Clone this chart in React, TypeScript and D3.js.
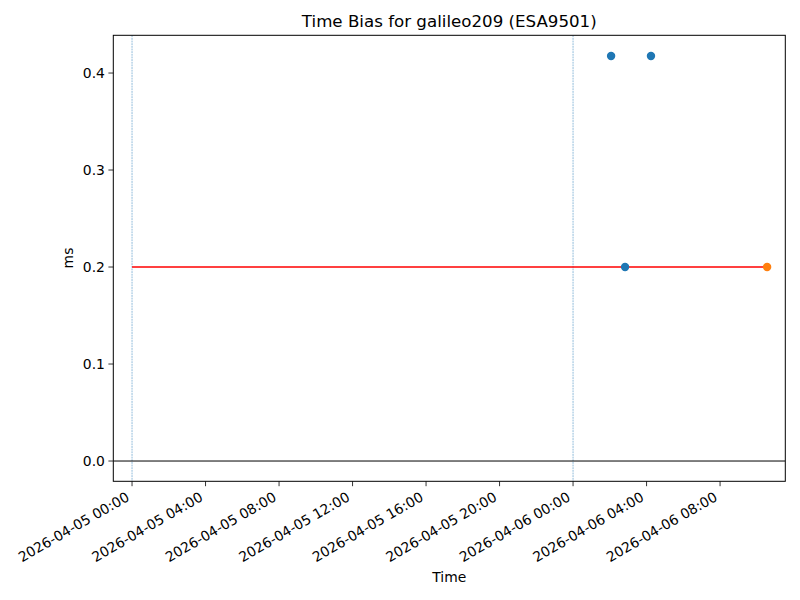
import React from "react";
import * as d3 from "d3";

const title = "Time Bias for galileo209 (ESA9501)";
const base = new Date(2026, 3, 5, 0, 0, 0);
const hrs = (h: number) => new Date(base.getTime() + h * 3600 * 1000);

// blue series: time offsets (hours from 2026-04-05 00:00) and values (ms)
const blueHours = [26.07, 28.24, 26.83];
const blueValues = [0.4175, 0.4175, 0.2];
// orange series
const orangeHours = [34.56];
const orangeValues = [0.2];
// red reference line
const redHours = [0, 34.56];
const redValues = [0.2, 0.2];
// vertical day separators
const dayLines = [0, 24];
const yTicks = [0.0, 0.1, 0.2, 0.3, 0.4];
const xTickHours = [0, 4, 8, 12, 16, 20, 24, 28, 32];

const W = 800, H = 600;
const L = 113.3, R = 785.3, T = 35.3, B = 481.3;

export default function App() {
  const x = d3.scaleTime().domain([hrs(-1.02), hrs(35.55)]).range([L, R]);
  const y = d3.scaleLinear().domain([-0.0209, 0.4389]).range([B, T]);
  const fmt = d3.timeFormat("%Y-%m-%d %H:%M");
  const font = "DejaVu Sans, sans-serif";
  const line = d3.line<[number, number]>().x(d => x(hrs(d[0]))).y(d => y(d[1]));
  const redPts: [number, number][] = redHours.map((h, i) => [h, redValues[i]]);
  return (
    <svg width={W} height={H} style={{ position: "absolute", left: 0, top: 0, background: "#fff" }} fontFamily={font}>
      <rect x={0} y={0} width={W} height={H} fill="#fff" />
      <defs>
        <clipPath id="plot"><rect x={L} y={T} width={R - L} height={B - T} /></clipPath>
      </defs>
      <g clipPath="url(#plot)">
        {dayLines.map((h, i) => (
          <line key={i} x1={x(hrs(h))} x2={x(hrs(h))} y1={T} y2={B} stroke="#1f77b4" strokeWidth={0.5} strokeDasharray="1.85,0.8" />
        ))}
        <line x1={L} x2={R} y1={y(0)} y2={y(0)} stroke="#000" strokeWidth={1} />
        <path d={line(redPts) || ""} stroke="#ff0000" strokeWidth={1.5} fill="none" />
        {blueHours.map((h, i) => (
          <circle key={i} cx={x(hrs(h))} cy={y(blueValues[i])} r={4.2} fill="#1f77b4" />
        ))}
        {orangeHours.map((h, i) => (
          <circle key={i} cx={x(hrs(h))} cy={y(orangeValues[i])} r={4.2} fill="#ff7f0e" />
        ))}
      </g>
      <rect x={L} y={T} width={R - L} height={B - T} fill="none" stroke="#000" strokeWidth={1} />
      {yTicks.map((v, i) => (
        <g key={i}>
          <line x1={L - 4.9} x2={L} y1={y(v)} y2={y(v)} stroke="#000" strokeWidth={0.8} />
          <text x={L - 8.4} y={y(v)} dy="0.35em" textAnchor="end" fontSize={13.9}>{v.toFixed(1)}</text>
        </g>
      ))}
      {xTickHours.map((h, i) => {
        const px = x(hrs(h));
        return (
          <g key={i}>
            <line x1={px} x2={px} y1={B} y2={B + 4.9} stroke="#000" strokeWidth={0.8} />
            <text transform={`translate(${px - 1.7},${B + 18.5}) rotate(-30)`} textAnchor="end" fontSize={13.9}>{fmt(hrs(h))}</text>
          </g>
        );
      })}
      <text x={(L + R) / 2} y={27} textAnchor="middle" fontSize={16.67}>{title}</text>
      <text x={(L + R) / 2} y={582} textAnchor="middle" fontSize={13.9}>Time</text>
      <text transform={`translate(73,258) rotate(-90)`} textAnchor="middle" fontSize={13.9}>ms</text>
    </svg>
  );
}
